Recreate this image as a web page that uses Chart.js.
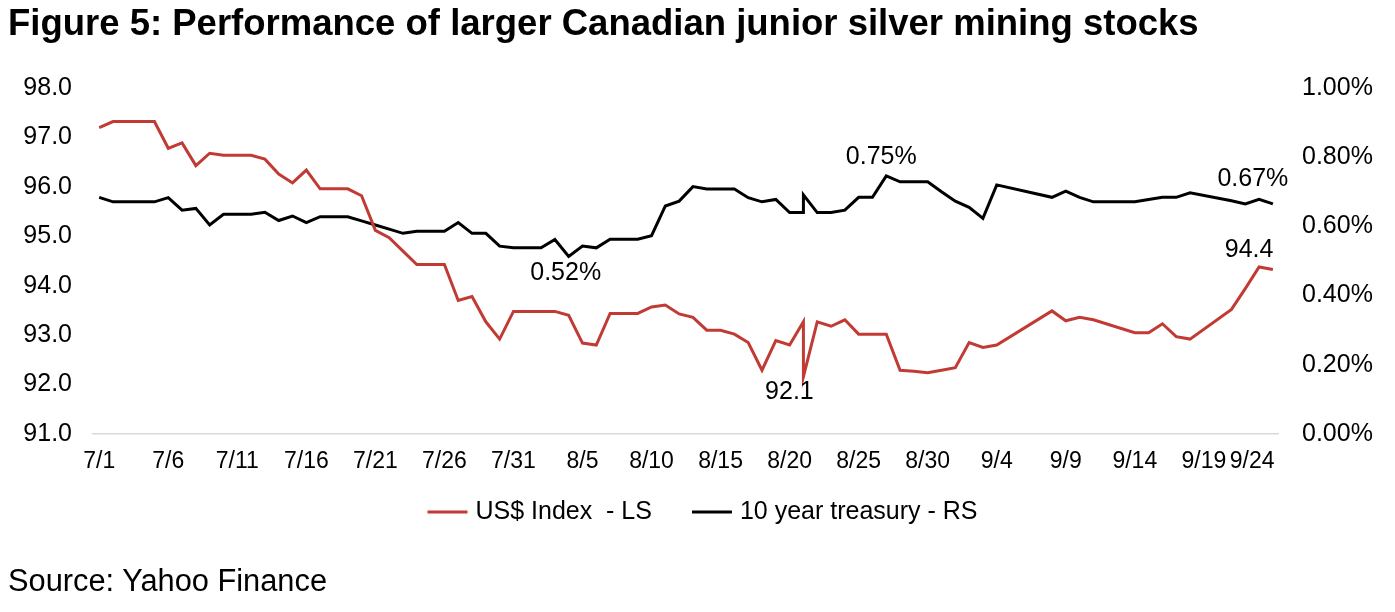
<!DOCTYPE html>
<html>
<head>
<meta charset="utf-8">
<script src="https://cdn.jsdelivr.net/npm/chart.js@4.4.1/dist/chart.umd.min.js"></script>
<style>
  html, body { margin: 0; padding: 0; background: #fff; }
  #wrap { position: relative; width: 1395px; height: 612px; overflow: hidden; }
  #myChart { position: absolute; left: 0; top: 0; }
  #title {
    position: absolute; left: 8px; top: 2px; white-space: nowrap;
    font: bold 36.5px "Liberation Sans", Arial, sans-serif; color: #000;
  }
  #source {
    position: absolute; left: 8px; top: 563px; white-space: nowrap;
    font: 30.8px "Liberation Sans", Arial, sans-serif; color: #000;
  }
</style>
</head>
<body>
<div id="wrap">
  <canvas id="myChart" width="1395" height="612"></canvas>
  <div id="title">Figure 5: Performance of larger Canadian junior silver mining stocks</div>
  <div id="source">Source: Yahoo Finance</div>
</div>
<script>
// daily points (8/21 shows up twice, hence the spike)
const dates = [
  "7/1", "7/2", "7/3", "7/4", "7/5", "7/6", "7/7", "7/8", "7/9", "7/10",
  "7/11", "7/12", "7/13", "7/14", "7/15", "7/16", "7/17", "7/18", "7/19", "7/20",
  "7/21", "7/22", "7/23", "7/24", "7/25", "7/26", "7/27", "7/28", "7/29", "7/30",
  "7/31", "8/1", "8/2", "8/3", "8/4", "8/5", "8/6", "8/7", "8/8", "8/9",
  "8/10", "8/11", "8/12", "8/13", "8/14", "8/15", "8/16", "8/17", "8/18", "8/19",
  "8/20", "8/21", "8/21", "8/22", "8/23", "8/24", "8/25", "8/26", "8/27", "8/28",
  "8/29", "8/30", "8/31", "9/1", "9/2", "9/3", "9/4", "9/8", "9/9", "9/10",
  "9/11", "9/14", "9/15", "9/16", "9/17", "9/18", "9/21", "9/22", "9/23", "9/24",
];

const usdIndex = [
  97.2, 97.32, 97.32, 97.32, 97.32, 96.78, 96.89, 96.43, 96.68, 96.64,
  96.64, 96.64, 96.56, 96.26, 96.08, 96.34, 95.96, 95.96, 95.96, 95.82,
  95.12, 94.97, 94.7, 94.43, 94.43, 94.43, 93.7, 93.78, 93.27, 92.92,
  93.48, 93.48, 93.48, 93.48, 93.4, 92.84, 92.8, 93.44, 93.44, 93.44,
  93.57, 93.61, 93.43, 93.36, 93.1, 93.1, 93.02, 92.85, 92.29, 92.89,
  92.8, 93.27, 92.16, 93.27, 93.18, 93.31, 93.02, 93.02, 93.02, 92.29,
  92.27, 92.24, 92.29, 92.34, 92.85, 92.75, 92.8, 93.49, 93.29, 93.36,
  93.31, 93.05, 93.05, 93.23, 92.97, 92.92, 93.52, 93.94, 94.38, 94.33,
];

const treasury10y = [
  0.684, 0.671, 0.671, 0.671, 0.671, 0.683, 0.647, 0.652, 0.604, 0.635,
  0.635, 0.635, 0.641, 0.617, 0.63, 0.611, 0.628, 0.628, 0.628, 0.616,
  0.604, 0.592, 0.58, 0.586, 0.586, 0.586, 0.611, 0.58, 0.58, 0.543,
  0.538, 0.538, 0.538, 0.562, 0.513, 0.543, 0.538, 0.563, 0.563, 0.563,
  0.573, 0.659, 0.673, 0.715, 0.708, 0.708, 0.708, 0.683, 0.671, 0.678,
  0.64, 0.64, 0.691, 0.64, 0.64, 0.647, 0.684, 0.684, 0.746, 0.729,
  0.729, 0.729, 0.7, 0.673, 0.655, 0.623, 0.72, 0.684, 0.702, 0.684,
  0.671, 0.671, 0.678, 0.684, 0.684, 0.697, 0.674, 0.665, 0.678, 0.665,
];

const tickLabels = [
  "7/1", "7/6", "7/11", "7/16", "7/21", "7/26", "7/31", "8/5", "8/10",
  "8/15", "8/20", "8/25", "8/30", "9/4", "9/9", "9/14", "9/19", "9/24",
];

const seriesNames = ["US$ Index  - LS", "10 year treasury - RS"];

// data labels shown on the figure; dx/dy nudge the text off its point
const callouts = [
  { series: 1, date: "8/4", text: "0.52%", dx: -3, dy: 16.5 },
  { series: 1, date: "8/27", text: "0.75%", dx: -5, dy: -19 },
  { series: 1, date: "9/24", text: "0.67%", dx: -20, dy: -24.5 },
  { series: 0, date: "9/23", text: "94.4", dx: -10, dy: -17 },
  { series: 0, date: "8/21", last: true, text: "92.1", dx: -14, dy: 15 },
];

const FONT = '"Liberation Sans", Arial, sans-serif';
const RED = "#c13b34";

const monthStart = { 7: 0, 8: 31, 9: 62 };

function dayOf(label) {
  const [m, d] = label.split("/").map(Number);
  return monthStart[m] + d - 1;
}

function toPoints(values) {
  return values.map((v, i) => ({ x: dayOf(dates[i]), y: v }));
}

const calloutPlugin = {
  id: "callouts",
  afterDatasetsDraw(chart) {
    const ctx = chart.ctx;
    ctx.save();
    ctx.font = "25px " + FONT;
    ctx.fillStyle = "#000";
    ctx.textAlign = "center";
    ctx.textBaseline = "middle";
    callouts.forEach((c) => {
      const i = c.last ? dates.lastIndexOf(c.date) : dates.indexOf(c.date);
      const pt = chart.getDatasetMeta(c.series).data[i];
      ctx.fillText(c.text, pt.x + c.dx, pt.y + c.dy);
    });
    ctx.restore();
  },
};

// Excel-style legend row: short line sample, text, wide gap between entries
const legendRow = {
  id: "legendRow",
  afterDraw(chart) {
    const ctx = chart.ctx;
    const y = 512;
    const sample = 40;
    const gap = 8;
    const between = 40;
    ctx.save();
    ctx.font = "25px " + FONT;
    ctx.textBaseline = "middle";
    ctx.textAlign = "left";
    const items = chart.data.datasets.map((ds) => ({
      text: ds.label,
      color: ds.borderColor,
      w: ctx.measureText(ds.label).width,
    }));
    const total =
      items.reduce((s, it) => s + sample + gap + it.w, 0) + between * (items.length - 1);
    let x = chart.width / 2 + 5 - total / 2;
    items.forEach((it) => {
      ctx.strokeStyle = it.color;
      ctx.lineWidth = 3;
      ctx.beginPath();
      ctx.moveTo(x, y);
      ctx.lineTo(x + sample, y);
      ctx.stroke();
      ctx.fillStyle = "#000";
      ctx.fillText(it.text, x + sample + gap, y);
      x += sample + gap + it.w + between;
    });
    ctx.restore();
  },
};

Chart.defaults.font.family = FONT;
Chart.defaults.color = "#000";

var ctx = document.getElementById("myChart").getContext("2d");
new Chart(ctx, {
  type: "line",
  data: {
    datasets: [
      {
        label: seriesNames[0],
        data: toPoints(usdIndex),
        yAxisID: "y",
        borderColor: RED,
        backgroundColor: RED,
        borderWidth: 3,
        pointRadius: 0,
        tension: 0,
      },
      {
        label: seriesNames[1],
        data: toPoints(treasury10y),
        yAxisID: "y1",
        borderColor: "#000",
        backgroundColor: "#000",
        borderWidth: 3,
        pointRadius: 0,
        tension: 0,
      },
    ],
  },
  options: {
    responsive: false,
    animation: false,
    layout: { padding: { left: 0, right: 0, top: 88, bottom: 128 } },
    plugins: {
      legend: { display: false },
      tooltip: { enabled: false },
    },
    scales: {
      x: {
        type: "linear",
        min: -0.45,
        max: 85.37,
        grid: { display: false, drawTicks: false },
        border: { display: true, color: "#d9d9d9", width: 1.5 },
        ticks: {
          autoSkip: false,
          maxRotation: 0,
          padding: 14,
          font: { size: 23 },
          callback: (value, index) => tickLabels[index],
        },
        afterBuildTicks: (axis) => {
          // Excel pulls the last date label back inside the plot
          axis.ticks = tickLabels.map((t, i) => ({
            value: dayOf(t) - (i === tickLabels.length - 1 ? 1.5 : 0),
          }));
        },
        afterFit: (axis) => {
          axis.height = 50;
        },
      },
      y: {
        position: "left",
        min: 91,
        max: 98,
        grid: { display: false, drawTicks: false },
        border: { display: false },
        ticks: {
          stepSize: 1,
          padding: 21,
          font: { size: 25 },
          callback: (v) => v.toFixed(1),
        },
        afterFit: (axis) => {
          axis.width = 93;
        },
      },
      y1: {
        position: "right",
        min: 0,
        max: 1,
        grid: { display: false, drawTicks: false },
        border: { display: false },
        ticks: {
          stepSize: 0.2,
          padding: 24,
          font: { size: 25 },
          callback: (v) => v.toFixed(2) + "%",
        },
        afterFit: (axis) => {
          axis.width = 117;
        },
      },
    },
  },
  plugins: [calloutPlugin, legendRow],
});
</script>
</body>
</html>
